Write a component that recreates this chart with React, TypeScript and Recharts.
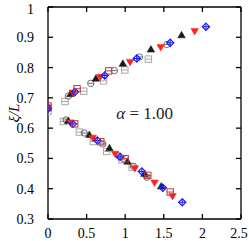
import React from 'react';
import { ScatterChart, Scatter, XAxis, YAxis, ReferenceDot } from 'recharts';

const xTicks = [0, 0.5, 1, 1.5, 2, 2.5];
const yTicks = [0.3, 0.4, 0.5, 0.6, 0.7, 0.8, 0.9, 1];

const lightSquares = [
  { x: 0, y: 0.655 }, { x: 0.22, y: 0.688 }, { x: 0.463, y: 0.722 }, { x: 0.72, y: 0.756 },
  { x: 0.995, y: 0.792 }, { x: 1.3, y: 0.828 },
  { x: 0.2, y: 0.622 }, { x: 0.406, y: 0.587 }, { x: 0.588, y: 0.556 }, { x: 0.76, y: 0.523 },
  { x: 0.956, y: 0.496 }, { x: 1.09, y: 0.471 },
];
const grayCircles = [
  { x: 0, y: 0.667 }, { x: 0.264, y: 0.706 }, { x: 0.554, y: 0.748 }, { x: 0.86, y: 0.79 },
  { x: 1.185, y: 0.835 }, { x: 1.54, y: 0.876 },
  { x: 0.234, y: 0.627 }, { x: 0.47, y: 0.584 }, { x: 0.71, y: 0.548 }, { x: 0.92, y: 0.508 },
  { x: 1.107, y: 0.474 }, { x: 1.28, y: 0.438 },
];
const blackUp = [
  { x: 0, y: 0.668 }, { x: 0.294, y: 0.713 }, { x: 0.62, y: 0.764 }, { x: 0.969, y: 0.813 },
  { x: 1.333, y: 0.86 }, { x: 1.73, y: 0.907 },
  { x: 0.264, y: 0.624 }, { x: 0.536, y: 0.578 }, { x: 0.796, y: 0.534 }, { x: 1.03, y: 0.49 },
  { x: 1.25, y: 0.449 }, { x: 1.466, y: 0.408 },
];
const redDown = [
  { x: 0, y: 0.668 }, { x: 0.32, y: 0.717 }, { x: 0.675, y: 0.769 }, { x: 1.064, y: 0.818 },
  { x: 1.46, y: 0.867 }, { x: 1.9, y: 0.92 },
  { x: 0.294, y: 0.618 }, { x: 0.58, y: 0.568 }, { x: 0.87, y: 0.515 }, { x: 1.125, y: 0.467 },
  { x: 1.38, y: 0.42 }, { x: 1.613, y: 0.375 },
];
const blueDiamonds = [
  { x: 0, y: 0.665 }, { x: 0.35, y: 0.72 }, { x: 0.735, y: 0.774 }, { x: 1.15, y: 0.83 },
  { x: 1.583, y: 0.882 }, { x: 2.046, y: 0.935 },
  { x: 0.32, y: 0.614 }, { x: 0.64, y: 0.559 }, { x: 0.934, y: 0.505 }, { x: 1.216, y: 0.457 },
  { x: 1.488, y: 0.403 }, { x: 1.739, y: 0.355 },
];
const brownSquares = [
  { x: 0, y: 0.673 }, { x: 0.376, y: 0.73 }, { x: 0.785, y: 0.789 },
  { x: 0.346, y: 0.614 }, { x: 0.684, y: 0.555 }, { x: 1.0, y: 0.499 }, { x: 1.293, y: 0.444 },
  { x: 1.583, y: 0.389 },
];

const boxLine = (color: string) => (p: any) => {
  const { cx, cy } = p;
  const s = 3.2;
  return (
    <g>
      <rect x={cx - s} y={cy - s} width={2 * s} height={2 * s} fill="none" stroke={color} strokeWidth={1} />
      <line x1={cx - s} x2={cx + s} y1={cy} y2={cy} stroke={color} strokeWidth={1} />
    </g>
  );
};
const circleLine = (color: string) => (p: any) => {
  const { cx, cy } = p;
  const r = 3.2;
  return (
    <g>
      <circle cx={cx} cy={cy} r={r} fill="none" stroke={color} strokeWidth={1} />
      <line x1={cx - r} x2={cx + r} y1={cy} y2={cy} stroke={color} strokeWidth={1} />
    </g>
  );
};
const triUp = (color: string) => (p: any) => {
  const { cx, cy } = p;
  return <path d={`M${cx - 3.8},${cy + 2.7}L${cx + 3.8},${cy + 2.7}L${cx},${cy - 3.8}Z`} fill={color} stroke={color} strokeWidth={0.5} />;
};
const triDown = (color: string) => (p: any) => {
  const { cx, cy } = p;
  return <path d={`M${cx - 3.8},${cy - 2.7}L${cx + 3.8},${cy - 2.7}L${cx},${cy + 3.8}Z`} fill={color} stroke={color} strokeWidth={0.5} />;
};
const diamondPlus = (color: string) => (p: any) => {
  const { cx, cy } = p;
  const s = 3.6;
  return (
    <g>
      <path d={`M${cx},${cy - s}L${cx + s},${cy}L${cx},${cy + s}L${cx - s},${cy}Z`} fill="none" stroke={color} strokeWidth={1.2} />
      <line x1={cx - s} x2={cx + s} y1={cy} y2={cy} stroke={color} strokeWidth={1} />
      <line x1={cx} x2={cx} y1={cy - s} y2={cy + s} stroke={color} strokeWidth={1} />
    </g>
  );
};

const font = "Liberation Serif";

const XTick = (props: any) => {
  const { x, y, payload } = props;
  return (
    <text x={x} y={y + 9} textAnchor="middle" fontFamily={font} fontSize={14} fill="#000">
      {String(payload.value)}
    </text>
  );
};
const YTick = (props: any) => {
  const { x, y, payload } = props;
  const v = payload.value as number;
  return (
    <text x={x} y={y + 5} textAnchor="end" fontFamily={font} fontSize={14} fill="#000">
      {v === 1 ? '1' : v.toFixed(1)}
    </text>
  );
};

export default function App() {
  return (
    <div style={{ position: 'absolute', left: 0, top: 0 }}>
      <ScatterChart width={249} height={241} margin={{ top: 6, right: 7, bottom: 0, left: 0 }}>
        <XAxis
          xAxisId="b" type="number" dataKey="x" domain={[0, 2.5]} ticks={xTicks} orientation="bottom"
          height={22} tickSize={-5} tickMargin={15} stroke="#000" strokeWidth={1.3}
          allowDataOverflow tick={<XTick />}
        />
        <XAxis
          xAxisId="t" type="number" dataKey="x" domain={[0, 2.5]} ticks={xTicks} orientation="top"
          height={1} tickSize={-5} tickMargin={0} stroke="#000" strokeWidth={1.3}
          tickFormatter={() => ''} allowDataOverflow
        />
        <YAxis
          yAxisId="l" type="number" dataKey="y" domain={[0.3, 1]} ticks={yTicks} orientation="left"
          width={48} tickSize={-5} tickMargin={19} stroke="#000" strokeWidth={1.3}
          allowDataOverflow tick={<YTick />}
          label={{
            content: (props: any) => {
              const vb = props.viewBox || { y: 7, height: 212 };
              const cy = vb.y + vb.height / 2;
              return (
                <text x={14} y={cy} transform={`rotate(-90 14 ${cy})`} textAnchor="middle" dominantBaseline="central"
                  fontFamily={font} fontSize={15} fontStyle="italic" fill="#000">ξ/L</text>
              );
            },
          }}
        />
        <YAxis
          yAxisId="r" type="number" dataKey="y" domain={[0.3, 1]} ticks={yTicks} orientation="right"
          width={1} tickSize={-5} tickMargin={0} stroke="#000" strokeWidth={1.3}
          tickFormatter={() => ''} allowDataOverflow
        />
        <Scatter xAxisId="b" yAxisId="l" data={lightSquares} shape={boxLine('#a8a8a8')} isAnimationActive={false} />
        <Scatter xAxisId="b" yAxisId="l" data={grayCircles} shape={circleLine('#707070')} isAnimationActive={false} />
        <Scatter xAxisId="b" yAxisId="l" data={blackUp} shape={triUp('#1a1a1a')} isAnimationActive={false} />
        <Scatter xAxisId="b" yAxisId="l" data={redDown} shape={triDown('#ff2020')} isAnimationActive={false} />
        <Scatter xAxisId="b" yAxisId="l" data={blueDiamonds} shape={diamondPlus('#1a1aff')} isAnimationActive={false} />
        <Scatter xAxisId="b" yAxisId="l" data={brownSquares} shape={boxLine('#b83a3a')} isAnimationActive={false} />
        <ReferenceDot
          xAxisId="b" yAxisId="l" x={1.252} y={0.65} r={0} fill="none" stroke="none"
          label={{
            content: (props: any) => {
              const vb = props.viewBox || { x: 0, y: 0, width: 0, height: 0 };
              const cx = vb.x + vb.width / 2;
              const cy = vb.y + vb.height / 2;
              return (
                <text x={cx} y={cy} textAnchor="middle" dominantBaseline="central" fontFamily={font} fontSize={17} fill="#222">
                  <tspan fontStyle="italic">α</tspan> = 1.00
                </text>
              );
            },
          }}
        />
      </ScatterChart>
    </div>
  );
}
